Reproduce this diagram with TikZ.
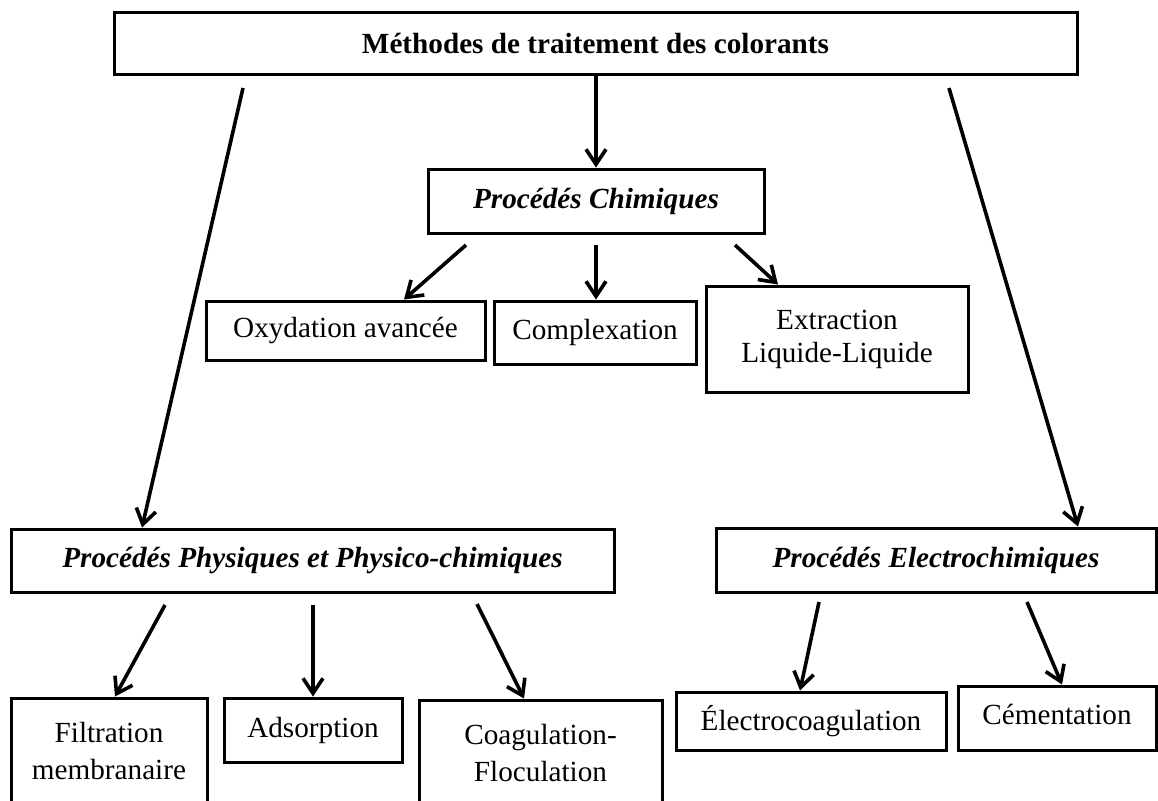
\documentclass[tikz,border=0pt]{standalone}
\usepackage{fontspec}
\setmainfont{Liberation Serif}
\usepackage{tkz-euclide}
\usetikzlibrary{arrows.meta}

\begin{document}
\begin{tikzpicture}[x=0.5pt,y=-0.5pt,
  boite/.style={draw,line width=1.5pt,inner sep=0pt,align=center,
    font=\fontsize{14.6}{18.5}\selectfont},
  titre/.style={boite,font=\fontsize{14.6}{18.5}\selectfont\bfseries\itshape},
  fleche/.style={line width=1.8pt,-{Straight Barb[length=7.5pt,width=10pt]}}]
  \clip (0,0) rectangle (1158,800);
  % 定义方框
  \node[boite,font=\fontsize{14.6}{18.5}\selectfont\bfseries,minimum width=481.5pt,minimum height=31pt] (methodes) at (595.5,43) {Méthodes de traitement des colorants};
  \node[titre,minimum width=168pt,minimum height=32pt] (chimiques) at (596,201) {Procédés Chimiques};
  \node[boite,minimum width=139.5pt,minimum height=29.5pt] (oxydation) at (345.5,330.5) {Oxydation avancée};
  \node[boite,minimum width=101pt,minimum height=31.5pt] (complexation) at (595,332.5) {Complexation};
  \node[boite,font=\fontsize{14.6}{16.5}\selectfont,minimum width=131pt,minimum height=53pt] (extraction) at (837,339) {Extraction\\Liquide-Liquide};
  \node[titre,minimum width=301.5pt,minimum height=31.5pt] (physiques) at (312.5,560.5) {Procédés Physiques et Physico-chimiques};
  \node[titre,minimum width=220pt,minimum height=32pt] (electro) at (936,560) {Procédés Electrochimiques};
  \node[boite,minimum width=98pt,minimum height=53pt] (filtration) at (109,751) {Filtration\\membranaire};
  \node[boite,minimum width=89pt,minimum height=32pt] (adsorption) at (313,730) {Adsorption};
  \node[boite,minimum width=121.5pt,minimum height=53pt] (coagulation) at (540.5,753) {Coagulation-\\Floculation};
  \node[boite,minimum width=135pt,minimum height=29pt] (electrocoag) at (811,721) {Électrocoagulation};
  \node[boite,text depth=4pt,minimum width=99pt,minimum height=32pt] (cementation) at (1057,718) {Cémentation};

  % 箭头起点
  \tkzDefPoint(243,88){G}
  \tkzDefPoint(949,88){D}
  \tkzDefPoint(466,245){C1}
  \tkzDefPoint(596,245){C2}
  \tkzDefPoint(735,245){C3}
  \tkzDefPoint(165,605){P1}
  \tkzDefPoint(313,605){P2}
  \tkzDefPoint(477,604){P3}
  \tkzDefPoint(819,602){E1}
  \tkzDefPoint(1027,602){E2}
  % 箭头终点
  \tkzDefPoint(142,528){Ga}
  \tkzDefPoint(1078,528){Da}
  \tkzDefPoint(404,301){C1a}
  \tkzDefPoint(596,301){C2a}
  \tkzDefPoint(778,286){C3a}
  \tkzDefPoint(115,698){P1a}
  \tkzDefPoint(313,698){P2a}
  \tkzDefPoint(524,700){P3a}
  \tkzDefPoint(800,692){E1a}
  \tkzDefPoint(1062,686){E2a}

  % 绘制箭头
  \draw[fleche] (methodes.south -| chimiques.north) -- (chimiques.north);
  \draw[fleche] (G) -- (Ga |- physiques.north);
  \draw[fleche] (D) -- (Da |- electro.north);
  \draw[fleche] (C1) -- (C1a |- oxydation.north);
  \draw[fleche] (C2) -- (C2a |- complexation.north);
  \draw[fleche] (C3) -- (C3a |- extraction.north);
  \draw[fleche] (P1) -- (P1a |- filtration.north);
  \draw[fleche] (P2) -- (P2a |- adsorption.north);
  \draw[fleche] (P3) -- (P3a |- coagulation.north);
  \draw[fleche] (E1) -- (E1a |- electrocoag.north);
  \draw[fleche] (E2) -- (E2a |- cementation.north);
\end{tikzpicture}
\end{document}
